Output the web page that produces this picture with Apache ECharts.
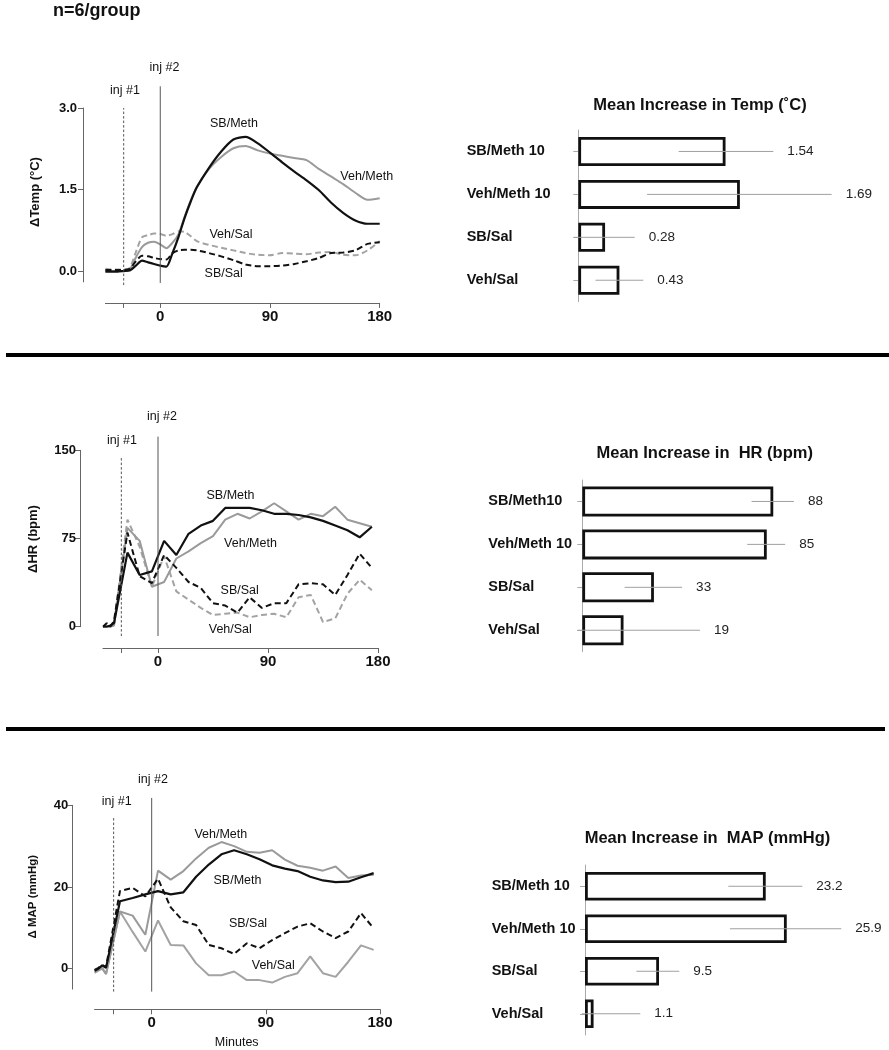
<!DOCTYPE html>
<html><head><meta charset="utf-8">
<script src="https://cdn.jsdelivr.net/npm/echarts@6/dist/echarts.min.js"></script>
<style>html,body{margin:0;padding:0;background:#fff}#c{width:889px;height:1050px}</style>
</head><body><div id="c"></div><script>
// ================= DATA =================
// Temperature (Δ°C)
var tempTime   = [-45,-40,-35,-30,-25,-20,-15,-10,-5,0,5,10,15,20,25,30,40,50,60,70,80,90,100,110,120,130,140,150,160,170,180];
var tempSBMeth = [-0.01,-0.01,-0.01,0.00,0.01,0.10,0.19,0.16,0.13,0.10,0.08,0.33,0.63,0.98,1.28,1.54,1.90,2.20,2.42,2.47,2.35,2.18,2.00,1.83,1.67,1.49,1.26,1.07,0.93,0.87,0.87];
var tempVehMeth= [0.00,0.00,0.00,0.00,0.03,0.25,0.44,0.52,0.54,0.49,0.42,0.52,0.68,1.00,1.30,1.55,1.88,2.10,2.26,2.30,2.22,2.16,2.12,2.08,2.04,1.88,1.74,1.60,1.44,1.31,1.34];
var tempSBSal  = [0.02,0.02,0.02,0.02,0.04,0.18,0.28,0.27,0.24,0.22,0.21,0.33,0.38,0.39,0.39,0.38,0.33,0.27,0.20,0.12,0.09,0.09,0.10,0.13,0.18,0.24,0.33,0.34,0.38,0.50,0.53];
var tempVehSal = [0.04,0.03,0.03,0.03,0.06,0.35,0.62,0.66,0.69,0.68,0.65,0.68,0.73,0.72,0.64,0.55,0.48,0.43,0.38,0.33,0.30,0.29,0.33,0.32,0.31,0.34,0.35,0.30,0.29,0.38,0.55];
// Heart rate (Δbpm)
var hrTime    = [-45,-42,-39,-36,-25,-15,-5,5,15,25,35,45,55,65,75,85,95,105,115,125,135,145,155,165,175];
var hrSBMeth  = [0,0,1,3,63,44,47,73,61,79,86,90,101,101,101,99,96,96,95,93,90,86,82,76,85];
var hrVehMeth = [0,0,0,1,84,73,34,38,58,64,71,77,91,96,92,98,105,98,91,96,94,102,91,88,85];
var hrSBSal   = [0,3,0,5,80,43,37,61,50,38,33,20,18,12,25,16,20,20,36,37,36,27,44,62,50];
var hrVehSal  = [0,0,1,2,91,68,34,60,30,23,16,10,11,12,8,10,11,8,25,27,4,7,28,40,31];
// Mean arterial pressure (ΔmmHg)
var mapTime    = [-45,-42,-39,-36,-25,-15,-5,5,15,25,35,45,55,65,75,85,95,105,115,125,135,145,155,165,175];
var mapSBMeth  = [-0.5,0,0.8,0.2,16.5,17.3,18.2,19,18.2,18.7,22.5,25.5,28,29,28,26.8,25.3,24.5,23.9,22.5,21.6,21.2,21.3,22.4,23.4];
var mapVehMeth = [-0.8,-0.3,0.2,-1.3,14,13,8.3,24,21.8,23.9,27,29.6,31,30,28.6,28.4,29,26.7,25.2,24.7,24,25,22.2,22.8,23];
var mapSBSal   = [-0.3,0.2,0.9,0.4,19,19.8,17.7,22,15,11.6,10.7,5.8,5,3.6,6.2,5,7,8.7,10.3,11.1,9.1,7.5,9.1,13.6,9.9];
var mapVehSal  = [-1,-0.5,0,-1.3,14,9,4.2,11.8,5.8,5.7,1.3,-1.6,-1.6,-0.7,-2.8,-2.8,-3.4,-2,-1.1,3,-1.1,-2,1.7,5.7,4.6];

var injTimes     = [-30, 0];
var xTickValues  = [-30, 0, 90, 180];
var xLabelValues = [0, 90, 180];
var tempTicks = [0, 1.5, 3.0];
var hrTicks   = [0, 75, 150];
var mapTicks  = [0, 20, 40];

// Bar charts
var tempCats = ['SB/Meth 10','Veh/Meth 10','SB/Sal','Veh/Sal'];
var tempMeans = [1.54, 1.69, 0.28, 0.43];
var tempErrLo = [1.05, 0.72, -0.05, 0.18];
var tempErrHi = [2.04, 2.65, 0.59, 0.68];
var hrCats = ['SB/Meth10','Veh/Meth 10','SB/Sal','Veh/Sal'];
var hrMeans = [88, 85, 33, 19];
var hrErrLo = [78, 76, 19.5, -2.3];
var hrErrHi = [97.5, 93.5, 46, 54.2];
var mapCats = ['SB/Meth 10','Veh/Meth 10','SB/Sal','Veh/Sal'];
var mapMeans = [23.2, 25.9, 9.5, 1.1];
var mapErrLo = [18.4, 18.6, 6.6, -0.4];
var mapErrHi = [27.9, 32.9, 12.1, 7.1];

// ================= LAYOUT / STYLE =================
var FONT = '"Liberation Sans", Arial, Helvetica, sans-serif';
var H = 1050, W = 889;
var panels = [
  {time: tempTime, s: [tempVehSal, tempVehMeth, tempSBSal, tempSBMeth], ticks: tempTicks, dec: 1, vehSalDashed: true, smooth: 0.25,
   grid: {left: 105.4, right: W - 379.7, top: 108, bottom: H - 281.9}, ymin: -0.2, ymax: 3.0, xOff: 21, yOff: 22.4, yMargin: 6,
   ann: {top: 86.3, bottom: H - 285.1, ymin: -0.26, ymax: 3.4, inj: [[-0.26, 3.0], [-0.22, 3.4]]}},
  {time: hrTime, s: [hrVehSal, hrVehMeth, hrSBSal, hrSBMeth], ticks: hrTicks, dec: 0, vehSalDashed: true, smooth: false,
   grid: {left: 103, right: W - 378, top: 450.3, bottom: H - 626.7}, ymin: 0, ymax: 150, xOff: 21.3, yOff: 23, yMargin: 4,
   ann: {top: 436.6, bottom: H - 636.1, ymin: -8, ymax: 162, inj: [[-8, 145], [-8, 162]]}},
  {time: mapTime, s: [mapVehSal, mapVehMeth, mapSBSal, mapSBMeth], ticks: mapTicks, dec: 0, vehSalDashed: false, smooth: false,
   grid: {left: 94.6, right: W - 380, top: 805.3, bottom: H - 989.1}, ymin: -5, ymax: 40, xOff: 20.2, yOff: 22.3, yMargin: 4,
   ann: {top: 797.9, bottom: H - 991.6, ymin: -5.6, ymax: 41.8, inj: [[-5.6, 37], [-5.6, 41.8]]}}
];
var bars = [
  {cats: tempCats, means: tempMeans, lo: tempErrLo, hi: tempErrHi, dec: 2, grid: {left: 578.3, right: 23.9, top: 130, height: 171.7}, max: 3, barWidth: 29, margin: 111.6},
  {cats: hrCats, means: hrMeans, lo: hrErrLo, hi: hrErrHi, dec: 0, grid: {left: 582.3, right: 2.9, top: 480, height: 171.7}, max: 140, barWidth: 30, margin: 94},
  {cats: mapCats, means: mapMeans, lo: mapErrLo, hi: mapErrHi, dec: 1, grid: {left: 585, right: 8, top: 865, height: 170}, max: 38, barWidth: 28.5, margin: 93.3}
];

var grids = [], xAxes = [], yAxes = [], series = [];
var AXC = '#666';

panels.forEach(function (p) {
  var gi = grids.length;
  grids.push(p.grid);
  xAxes.push({type: 'value', gridIndex: gi, min: -45, max: 180, offset: p.xOff, position: 'bottom',
    axisLine: {show: true, onZero: false, lineStyle: {color: AXC, width: 1}},
    axisTick: {show: true, customValues: xTickValues, length: 5, lineStyle: {color: AXC}},
    axisLabel: {customValues: xLabelValues, fontFamily: FONT, fontWeight: 'bold', fontSize: 15, color: '#111', margin: 6},
    splitLine: {show: false}});
  yAxes.push({type: 'value', gridIndex: gi, min: p.ymin, max: p.ymax, offset: p.yOff, position: 'left',
    axisLine: {show: true, onZero: false, lineStyle: {color: AXC, width: 1}},
    axisTick: {show: true, customValues: p.ticks, length: 5, lineStyle: {color: AXC}},
    axisLabel: {customValues: p.ticks, fontFamily: FONT, fontWeight: 'bold', fontSize: 13, color: '#111', margin: p.yMargin,
      formatter: (function (d) { return function (v) { return Number(v).toFixed(d); }; })(p.dec)},
    splitLine: {show: false}});
  var xi = xAxes.length - 1, yi = yAxes.length - 1;
  var styles = [
    {color: '#a3a3a3', type: p.vehSalDashed ? [6, 3.5] : 'solid', width: 2},
    {color: '#9a9a9a', type: 'solid', width: 2},
    {color: '#111', type: [6, 3.5], width: 2},
    {color: '#111', type: 'solid', width: 2.2}
  ];
  p.s.forEach(function (vals, k) {
    series.push({type: 'line', xAxisIndex: xi, yAxisIndex: yi, symbol: 'none', smooth: p.smooth, silent: true,
      lineStyle: styles[k], itemStyle: {color: styles[k].color},
      data: p.time.map(function (t, i) { return [t, vals[i]]; })});
  });
  // annotation grid for injection lines
  var ai = grids.length;
  grids.push({left: p.grid.left, right: p.grid.right, top: p.ann.top, bottom: p.ann.bottom});
  xAxes.push({type: 'value', gridIndex: ai, min: -45, max: 180, show: false});
  yAxes.push({type: 'value', gridIndex: ai, min: p.ann.ymin, max: p.ann.ymax, show: false});
  injTimes.forEach(function (t, k) {
    series.push({type: 'line', xAxisIndex: xAxes.length - 1, yAxisIndex: yAxes.length - 1, symbol: 'none', silent: true,
      lineStyle: {color: '#555', width: 1, type: k === 0 ? [2.5, 2] : 'solid'},
      data: [[t, p.ann.inj[k][0]], [t, p.ann.inj[k][1]]]});
  });
});

bars.forEach(function (b) {
  var gi = grids.length;
  grids.push(b.grid);
  xAxes.push({type: 'value', gridIndex: gi, min: 0, max: b.max, show: false});
  yAxes.push({type: 'category', gridIndex: gi, data: b.cats, inverse: true,
    axisLine: {show: true, onZero: false, lineStyle: {color: '#aaa', width: 1}},
    axisTick: {show: true, alignWithLabel: true, length: 5, lineStyle: {color: '#aaa'}},
    axisLabel: {align: 'left', margin: b.margin, fontFamily: FONT, fontWeight: 'bold', fontSize: 14.5, color: '#111'}});
  var xi = xAxes.length - 1, yi = yAxes.length - 1;
  series.push({type: 'bar', xAxisIndex: xi, yAxisIndex: yi, data: b.means, barWidth: b.barWidth, silent: true, z: 2,
    itemStyle: {color: '#fff', borderColor: '#111', borderWidth: 2.8}});
  series.push({type: 'custom', xAxisIndex: xi, yAxisIndex: yi, silent: true, z: 5, clip: false,
    encode: {x: [0, 1], y: 2},
    data: b.cats.map(function (c, i) { return [b.lo[i], b.hi[i], i]; }),
    renderItem: function (params, api) {
      var i = params.dataIndex;
      var p1 = api.coord([api.value(0), i]);
      var p2 = api.coord([api.value(1), i]);
      return {type: 'group', children: [
        {type: 'line', shape: {x1: p1[0], y1: p1[1], x2: p2[0], y2: p2[1]}, style: {stroke: '#a0a0a0', lineWidth: 1}},
        {type: 'text', x: p2[0] + 14, y: p2[1], style: {text: b.means[i].toFixed(b.dec), fill: '#222',
          font: '13.5px ' + FONT, align: 'left', verticalAlign: 'middle'}}
      ]};
    }});
});

function txt(s, x, y, size, bold, rot, align) {
  return {type: 'text', x: x, y: y, rotation: rot || 0, silent: true,
    style: {text: s, fill: '#111', font: (bold ? 'bold ' : '') + size + 'px ' + FONT,
      align: align || 'center', verticalAlign: 'middle'}};
}
var R = Math.PI / 2;
var graphics = [
  txt('n=6/group', 53, 11, 18, true, 0, 'left'),
  {type: 'line', silent: true, shape: {x1: 6, y1: 355, x2: 889, y2: 355}, style: {stroke: '#000', lineWidth: 4}},
  {type: 'line', silent: true, shape: {x1: 6, y1: 729, x2: 885, y2: 729}, style: {stroke: '#000', lineWidth: 4}},
  txt('Mean Increase in Temp (˚C)', 700, 105, 16.5, true),
  txt('Mean Increase in  HR (bpm)', 704.7, 453.3, 16.5, true),
  txt('Mean Increase in  MAP (mmHg)', 707.5, 838.3, 16.5, true),
  txt('ΔTemp (°C)', 35.5, 192, 13, true, R),
  txt('ΔHR (bpm)', 33.3, 539, 13, true, R),
  txt('Δ MAP (mmHg)', 33, 896.7, 11.5, true, R),
  txt('inj #1', 125, 90.5, 12.5), txt('inj #2', 164.5, 67.5, 12.5),
  txt('inj #1', 122, 441, 12.5), txt('inj #2', 162, 417, 12.5),
  txt('inj #1', 116.7, 801.7, 12.5), txt('inj #2', 153, 780, 12.5),
  txt('SB/Meth', 234, 124, 12.5), txt('Veh/Meth', 366.7, 176.7, 12.5), txt('Veh/Sal', 231, 235, 12.5), txt('SB/Sal', 223.7, 273.3, 12.5),
  txt('SB/Meth', 230.5, 496, 12.5), txt('Veh/Meth', 250.5, 543.3, 12.5), txt('SB/Sal', 239.7, 590.7, 12.5), txt('Veh/Sal', 230.3, 630, 12.5),
  txt('Veh/Meth', 220.8, 835, 12.5), txt('SB/Meth', 237.5, 880.7, 12.5), txt('SB/Sal', 248, 923.3, 12.5), txt('Veh/Sal', 273.3, 966, 12.5),
  txt('Minutes', 236.7, 1043, 12.5)
];

var chart = echarts.init(document.getElementById('c'), null, {renderer: 'canvas'});
chart.setOption({
  animation: false,
  backgroundColor: '#fff',
  textStyle: {fontFamily: FONT},
  grid: grids, xAxis: xAxes, yAxis: yAxes, series: series,
  graphic: graphics
});
</script></body></html>
